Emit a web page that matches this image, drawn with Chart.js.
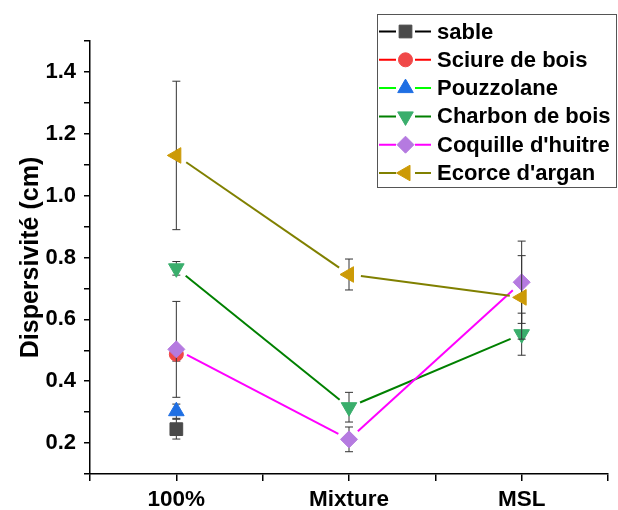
<!DOCTYPE html>
<html>
<head>
<meta charset="utf-8">
<script src="https://cdn.jsdelivr.net/npm/chart.js@4"></script>
<style>
  html, body { margin: 0; padding: 0; background: #fff; }
  #wrap { width: 618px; height: 510px; }
</style>
</head>
<body>
<div id="wrap"><canvas id="myChart"></canvas></div>
<script>
// categories + values
var categories = ['100%', 'Mixture', 'MSL'];
var names = ['sable', 'Sciure de bois', 'Pouzzolane', 'Charbon de bois', "Coquille d'huitre", "Ecorce d'argan"];

var sable    = [0.245, null, null];
var sciure   = [0.487, null, null];
var pouzzo   = [0.303, null, null];
var charbon  = [0.765, 0.316, 0.552];
var coquille = [0.503, 0.212, 0.720];
var ecorce   = [1.130, 0.745, 0.671];

var sableErr    = [0.032, null, null];
var sciureErr   = [0.022, null, null];
var pouzzoErr   = [0.023, null, null];
var charbonErr  = [0.022, 0.048, 0.068];
var coquilleErr = [0.155, 0.040, 0.133];
var ecorceErr   = [0.240, 0.050, 0.135];

var yTicks = [0.2, 0.4, 0.6, 0.8, 1.0, 1.2, 1.4];

// styles
var lineColors   = ['#000000', '#ff0000', '#00ff00', '#008000', '#ff00ff', '#808000'];
var markerColors = ['#4a4a4a', '#f04848', '#1f6fe3', '#3aae6c', '#b57ae0', '#cc9a06'];
var markers      = ['rect', 'circle', 'triangle', 'triangle', 'rectRot', 'triangle'];
var rotations    = [0, 0, 0, 180, 0, -90];
var radii        = [9, 7, 9, 9, 8.5, 9];

var FONT = '"Liberation Sans", Arial, sans-serif';
var GAP = 12; // origin-style gap between line and marker

function pts(vals, errs) {
  var out = [];
  vals.forEach(function (v, j) {
    if (v !== null) out.push({ x: j + 1, y: v, err: errs[j] });
  });
  return out;
}

var values = [sable, sciure, pouzzo, charbon, coquille, ecorce];
var errors = [sableErr, sciureErr, pouzzoErr, charbonErr, coquilleErr, ecorceErr];

var datasets = names.map(function (n, i) {
  return {
    label: n,
    data: pts(values[i], errors[i]),
    borderColor: lineColors[i],
    borderWidth: 2,
    pointStyle: markers[i],
    pointRotation: rotations[i],
    pointRadius: radii[i],
    pointBackgroundColor: markerColors[i],
    pointBorderColor: markerColors[i],
    pointBorderWidth: 1,
    showLine: false,
    order: names.length - i
  };
});

// connecting lines (with gaps) + error bars, drawn before each dataset's markers
var seriesDecor = {
  id: 'seriesDecor',
  beforeDatasetDraw: function (chart, args) {
    var ctx = chart.ctx, ys = chart.scales.y;
    var ds = chart.data.datasets[args.index];
    var els = args.meta.data;
    ctx.save();
    ctx.strokeStyle = ds.borderColor;
    ctx.lineWidth = 2;
    for (var k = 1; k < els.length; k++) {
      var a = els[k - 1], b = els[k];
      var dx = b.x - a.x, dy = b.y - a.y, len = Math.sqrt(dx * dx + dy * dy);
      if (len <= 2 * GAP) continue;
      var ux = dx / len, uy = dy / len;
      ctx.beginPath();
      ctx.moveTo(a.x + ux * GAP, a.y + uy * GAP);
      ctx.lineTo(b.x - ux * GAP, b.y - uy * GAP);
      ctx.stroke();
    }
    ctx.strokeStyle = '#333';
    ctx.lineWidth = 1;
    ds.data.forEach(function (p, j) {
      if (p.err == null) return;
      var x = els[j].x;
      var t = ys.getPixelForValue(p.y + p.err);
      var bt = ys.getPixelForValue(p.y - p.err);
      ctx.beginPath();
      ctx.moveTo(x, t); ctx.lineTo(x, bt);
      ctx.moveTo(x - 4, t); ctx.lineTo(x + 4, t);
      ctx.moveTo(x - 4, bt); ctx.lineTo(x + 4, bt);
      ctx.stroke();
    });
    ctx.restore();
  }
};

// legend box with line-marker-line samples
var legendBox = {
  id: 'legendBox',
  afterDraw: function (chart) {
    var ctx = chart.ctx;
    ctx.save();
    ctx.strokeStyle = '#555';
    ctx.lineWidth = 1;
    ctx.strokeRect(377.5, 14.5, 239, 173);
    chart.data.datasets.forEach(function (ds, i) {
      var y = 31.5 + i * 28.3;
      ctx.strokeStyle = ds.borderColor;
      ctx.lineWidth = 2;
      ctx.beginPath();
      ctx.moveTo(379, y); ctx.lineTo(396, y);
      ctx.moveTo(415, y); ctx.lineTo(431, y);
      ctx.stroke();
      ctx.fillStyle = ds.pointBackgroundColor;
      ctx.strokeStyle = ds.pointBorderColor;
      ctx.lineWidth = 1;
      Chart.helpers.drawPoint(ctx, {
        pointStyle: ds.pointStyle,
        rotation: ds.pointRotation,
        radius: ds.pointRadius,
        borderWidth: 1
      }, 405.5, y);
      ctx.fillStyle = '#000';
      ctx.font = 'bold 22px ' + FONT;
      ctx.textBaseline = 'middle';
      ctx.textAlign = 'left';
      ctx.fillText(ds.label, 437, y + 1);
    });
    ctx.restore();
  }
};

var chart = new Chart(document.getElementById('myChart'), {
  type: 'scatter',
  data: { datasets: datasets },
  plugins: [seriesDecor, legendBox],
  options: {
    responsive: true,
    maintainAspectRatio: false,
    animation: false,
    layout: { padding: { left: 0, top: 41, right: 8, bottom: 0 } },
    plugins: {
      legend: { display: false },
      tooltip: { enabled: false }
    },
    scales: {
      x: {
        type: 'linear',
        min: 0.5,
        max: 3.5,
        afterFit: function (s) { s.height = 36; },
        afterBuildTicks: function (s) {
          s.ticks = [0.5, 1, 1.5, 2, 2.5, 3, 3.5].map(function (v) { return { value: v }; });
        },
        ticks: {
          color: '#000',
          font: { family: FONT, size: 22.5, weight: 'bold' },
          padding: 5,
          maxRotation: 0,
          autoSkip: false,
          callback: function (v) { return Number.isInteger(v) ? categories[v - 1] : ''; }
        },
        grid: { drawOnChartArea: false, color: '#000', lineWidth: 1.5, tickLength: 7 },
        border: { color: '#000', width: 1.5 }
      },
      y: {
        min: 0.1,
        max: 1.5,
        afterFit: function (s) { s.width = 90; },
        afterBuildTicks: function (s) {
          var t = [];
          for (var k = 1; k <= 15; k++) t.push({ value: k / 10 });
          s.ticks = t;
        },
        ticks: {
          color: '#000',
          font: { family: FONT, size: 22, weight: 'bold' },
          padding: 8,
          autoSkip: false,
          callback: function (v) {
            var hit = yTicks.some(function (t) { return Math.abs(t - v) < 1e-6; });
            return hit ? v.toFixed(1) : '';
          }
        },
        grid: { drawOnChartArea: false, color: '#000', lineWidth: 1.5, tickLength: 6 },
        border: { color: '#000', width: 1.5 },
        title: {
          display: true,
          text: 'Dispersivité (cm)',
          color: '#000',
          font: { family: FONT, size: 25, weight: 'bold' },
          padding: { top: 16, bottom: 0 }
        }
      }
    }
  }
});
</script>
</body>
</html>
